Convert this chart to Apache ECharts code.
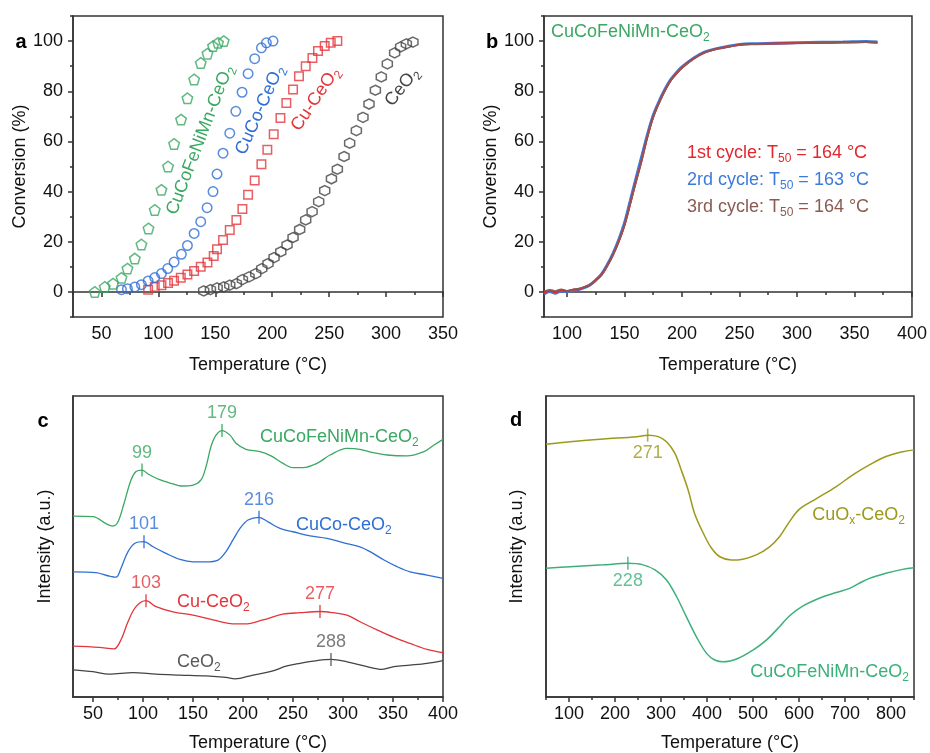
<!DOCTYPE html>
<html>
<head>
<meta charset="utf-8">
<script src="https://cdn.jsdelivr.net/npm/echarts@6/dist/echarts.min.js"></script>
<style>
  html, body { margin: 0; padding: 0; background: #fff; }
  #chart { width: 930px; height: 753px; }
</style>
</head>
<body>
<div id="chart"></div>
<script>
// ---- panel a: light-off curves (temperature °C, conversion %) ----
const aHeaT = [44.1, 52.9, 60.2, 67.6, 72.8, 79.3, 85.1, 91.3, 96.8, 102.7, 108.5, 113.8, 119.9, 125.5, 131.4, 137.2, 143.1, 148, 152.4, 157.4];
const aHeaC = [0, 2, 3.3, 5.6, 9.3, 13.3, 18.9, 25.3, 32.7, 40.7, 50, 59, 68.7, 77.2, 84.7, 91.3, 95, 98, 99.3, 100];
const aCuCoT = [67.6, 72.8, 79.3, 85.1, 91, 96.8, 102.7, 108.2, 113.8, 120.2, 125.5, 131.4, 137.2, 142.8, 148, 151.5, 156.8, 162.7, 168, 173.5, 178.8, 184.6, 190.5, 194.9, 200.7];
const aCuCoC = [0.9, 1.3, 2, 2.9, 4.4, 5.7, 7.3, 9.3, 11.9, 15, 18.5, 23.3, 28, 33.6, 40, 47, 55.3, 63.3, 72, 79.6, 87, 93, 97.3, 99.3, 100];
const aCuT = [91, 96.8, 102.7, 108.5, 113.8, 119.7, 125.5, 131.4, 137.2, 143.1, 148.6, 151.5, 156.8, 162.7, 168.5, 173.8, 178.8, 184.6, 190.5, 195.7, 201.3, 207.2, 212.4, 218.3, 223.5, 229.4, 235.3, 240.2, 246.1, 251.4, 257.2];
const aCuC = [0.9, 2, 2.7, 3.6, 4.5, 5.6, 6.9, 8.3, 10, 11.7, 14.3, 17, 20.7, 24.7, 28.7, 33.1, 38.7, 44.4, 50.9, 56.7, 62.9, 69.3, 75.3, 80.7, 86, 90, 93.3, 96, 98, 99.3, 100];
const aCeT = [139.8, 145.7, 151.6, 157.4, 162.7, 168.5, 173.8, 179.6, 185.5, 190.8, 196.3, 201.6, 207.5, 213, 218.3, 224.1, 229.4, 235, 240.8, 246.1, 252, 257.2, 263.1, 268, 273.9, 279.7, 285, 290.6, 295.8, 301.1, 307.5, 312.8, 317.8, 323.6];
const aCeC = [0.4, 0.9, 1.6, 2, 2.7, 3.3, 4.9, 6, 7.3, 9.3, 11.3, 13.7, 16, 18.7, 21.7, 24.9, 28.7, 32, 36, 40.4, 45.1, 48.9, 54, 59.3, 64.3, 69.6, 74.9, 80.4, 85.7, 90.9, 95.3, 97.7, 98.9, 99.6];

// ---- panel b: three cycles ----
const bT = [80, 85, 90, 95, 100, 105, 110, 115, 120, 125, 130, 135, 140, 145, 150, 155, 160, 165, 170, 175, 180, 185, 190, 195, 200, 210, 220, 230, 240, 250, 260, 280, 300, 320, 340, 360, 370];
const bCycle1 = [-0.5, 0.6, -0.2, 0.8, 0.3, 0.9, 1.1, 1.9, 2.9, 4.6, 6.8, 10.4, 14.8, 20.1, 26.6, 35.2, 44, 52.5, 62, 69.8, 75.4, 80.2, 84.2, 87, 89.4, 93, 95.5, 96.9, 97.7, 98.5, 98.8, 99, 99.2, 99.3, 99.5, 99.6, 99.4];
const bCycle2 = [-0.8, 0.2, -0.5, 0.4, 0.1, 0.6, 0.9, 1.7, 2.8, 4.7, 7.1, 10.8, 15.3, 20.8, 27.5, 36.3, 45.3, 54, 62.8, 70.4, 75.9, 80.6, 84.5, 87.3, 89.7, 93.2, 95.7, 97, 97.9, 98.6, 98.9, 99.1, 99.3, 99.5, 99.6, 99.8, 99.6];
const bCycle3 = [0.2, 0.9, 0.4, 1.1, 0.5, 1, 1.4, 2, 3, 4.6, 6.7, 10.3, 14.6, 19.9, 26.4, 35, 43.8, 52.3, 61.8, 69.6, 75.3, 80.1, 84.1, 86.9, 89.3, 92.9, 95.4, 96.8, 97.7, 98.4, 98.7, 98.9, 99.1, 99.3, 99.4, 99.5, 99.3];
const bT50 = [164, 163, 164];

// ---- panel c: H2-TPR profiles (temperature °C, intensity a.u.) ----
const cHeaT = [30, 50, 63, 70, 75, 81, 88, 93, 99, 105, 116, 130, 138, 150, 158, 163, 168, 173, 179, 187, 193, 203, 217, 228, 240, 250, 260, 274, 287, 304, 317, 330, 344, 364, 381, 391, 400];
const cHeaI = [60.1, 59.9, 57.6, 56.8, 58.2, 64.3, 72.1, 74.9, 75.4, 74.1, 72.3, 70.8, 70.1, 70.4, 72.1, 76.5, 83.2, 87, 88.5, 87, 84.3, 82.3, 81.5, 80.1, 77.6, 76.2, 76.2, 77.6, 80.4, 82.6, 82.3, 81.2, 80.4, 80.1, 81.5, 83.7, 85.6];
const cCuCoT = [30, 53, 66, 73, 78, 85, 92, 101, 110, 123, 137, 150, 163, 175, 183, 190, 197, 205, 216, 225, 237, 250, 267, 284, 300, 317, 327, 341, 354, 367, 384, 400];
const cCuCoI = [41.6, 41.3, 40.2, 39.8, 42.8, 48.3, 51.1, 51.6, 49.9, 47.7, 45.7, 44.9, 44.9, 45.5, 48.3, 52.2, 56, 58.8, 59.7, 58.2, 56, 54.9, 53.5, 52.7, 51.3, 49.9, 48.3, 45.5, 43.3, 41.6, 40.5, 39.4];
const cCuT = [30, 56, 71, 78, 85, 93, 103, 113, 130, 150, 170, 190, 204, 220, 240, 257, 277, 290, 304, 317, 334, 351, 367, 384, 400];
const cCuI = [16.9, 16.5, 16, 19, 25, 30, 32, 30, 28.3, 27.2, 25.6, 24.3, 24.3, 25.6, 27.5, 28, 28.4, 28, 27.2, 25, 22.3, 19.8, 17.8, 15.8, 14.7];
const cCeT = [30, 50, 66, 90, 113, 137, 163, 183, 192, 210, 227, 244, 257, 274, 288, 304, 324, 339, 351, 367, 384, 400];
const cCeI = [9, 8.4, 7.6, 8.1, 7.6, 7.3, 7, 6.5, 6, 7.3, 8.4, 10.3, 11.2, 12.1, 12.5, 11.7, 10.1, 9.2, 10.1, 10.6, 11.2, 12.1];
const cPeakT = [99, 179, 101, 216, 103, 277, 288];
const cPeakI = [75.4, 88.5, 51.6, 59.7, 32, 28.4, 12.5];
const cPeakColor = ['hea', 'hea', 'cuco', 'cuco', 'cu', 'cu', 'ce'];

// ---- panel d ----
const dCuOxT = [50, 102, 175, 247, 272, 294, 312, 330, 344, 359, 373, 392, 410, 428, 453, 478, 507, 536, 558, 579, 601, 637, 681, 717, 753, 789, 825, 850];
const dCuOxI = [84, 84.8, 85.7, 86.5, 87, 86.5, 84.8, 81, 75.4, 68.8, 61, 54.4, 49.4, 46.6, 45.5, 45.8, 47.2, 49.9, 53.3, 58.2, 62.4, 65.8, 69.9, 73.8, 77.1, 79.9, 81.5, 82.1];
const dHeaT = [50, 102, 175, 227, 261, 287, 312, 334, 355, 377, 399, 417, 435, 467, 500, 529, 558, 579, 608, 652, 681, 710, 731, 753, 789, 825, 850];
const dHeaI = [42.8, 43.3, 43.9, 44.4, 43.9, 42.2, 38.9, 33.3, 26.7, 20, 14.5, 12.3, 11.7, 12.8, 15.6, 18.9, 23.4, 26.9, 30.2, 33.3, 34.7, 36.1, 37.8, 39.4, 41.1, 42.4, 42.9];
const dPeakT = [271, 228];
const dPeakI = [87, 44.4];

// tick labels
const ticksA = [50, 100, 150, 200, 250, 300, 350];
const ticksB = [100, 150, 200, 250, 300, 350, 400];
const ticksC = [50, 100, 150, 200, 250, 300, 350, 400];
const ticksD = [100, 200, 300, 400, 500, 600, 700, 800];
const ticksConv = [0, 20, 40, 60, 80, 100];

const FONT = '"Liberation Sans", Arial, sans-serif';
const INK = '#333';
const col = {
    hea: '#3aa862', cuco: '#2f6fd3', cu: '#e2363b', ce: '#444444',
    ceText: '#5a5a5a', olive: '#9c9a1b', heaD: '#3cb079',
    r: '#e0282e', b: '#3d7bd9', br: '#8c5a52'
};

const zip = (a, b) => a.map((v, i) => [v, b[i]]);
const minorsBetween = (ticks, step, lo, hi) => {
    let out = [];
    for (let v = ticks[0] - step; v >= lo; v -= step * 2) out.push(v);
    ticks.forEach(t => { if (t + step <= hi) out.push(t + step); });
    return out;
};

let xAxis = [], yAxis = [];
function addAxis(list, g, min, max, majors, minors, name, nameGap, showLabels) {
    const isX = list === xAxis;
    const pos = isX ? 'bottom' : 'left';
    list.push({
        gridIndex: g, type: 'value', min: min, max: max, position: pos,
        axisLine: { show: true, lineStyle: { color: INK, width: 1.5 } },
        axisTick: { show: majors.length > 0, customValues: majors, length: 5, lineStyle: { color: INK, width: 1.5 } },
        axisLabel: { show: showLabels, customValues: majors, margin: isX ? 8 : 10, fontSize: 18, color: '#111', fontFamily: FONT },
        splitLine: { show: false },
        name: name, nameLocation: 'middle', nameGap: nameGap,
        nameTextStyle: { fontSize: 18, color: '#111', fontFamily: FONT }
    });
    const idx = list.length - 1;
    if (minors.length) {
        list.push({
            gridIndex: g, type: 'value', min: min, max: max, position: pos,
            axisLine: { show: false },
            axisTick: { show: true, customValues: minors, length: 3, lineStyle: { color: INK, width: 1.5 } },
            axisLabel: { show: false },
            splitLine: { show: false }
        });
    }
    return idx;
}

const xa = addAxis(xAxis, 0, 25, 350, ticksA, minorsBetween(ticksA, 25, 25, 350), 'Temperature (°C)', 39, true);
const ya = addAxis(yAxis, 0, -10, 110, ticksConv, minorsBetween(ticksConv, 10, -10, 110), 'Conversion (%)', 44, true);
const xb = addAxis(xAxis, 1, 80, 400, ticksB, minorsBetween(ticksB, 25, 80, 400), 'Temperature (°C)', 39, true);
const yb = addAxis(yAxis, 1, -10, 110, ticksConv, minorsBetween(ticksConv, 10, -10, 110), 'Conversion (%)', 43, true);
const xc = addAxis(xAxis, 2, 30, 400, ticksC, minorsBetween(ticksC, 25, 30, 400), 'Temperature (°C)', 37, true);
const yc = addAxis(yAxis, 2, 0, 100, [], [], 'Intensity (a.u.)', 19, false);
const xd = addAxis(xAxis, 3, 50, 850, ticksD, minorsBetween(ticksD, 50, 50, 850), 'Temperature (°C)', 37, true);
const yd = addAxis(yAxis, 3, 0, 100, [], [], 'Intensity (a.u.)', 20, false);

const gridBox = { show: true, borderColor: INK, borderWidth: 1.5, backgroundColor: 'transparent' };

function hollow(t, c, color, symbol, size) {
    return {
        type: 'scatter', xAxisIndex: xa, yAxisIndex: ya, data: zip(t, c),
        symbol: symbol, symbolSize: size,
        itemStyle: { color: 'rgba(0,0,0,0)', borderColor: color, borderWidth: 1.5 }
    };
}
function curve(xi, yi, t, v, color, w) {
    return {
        type: 'line', xAxisIndex: xi, yAxisIndex: yi, data: zip(t, v),
        symbol: 'none', smooth: 0.35, lineStyle: { color: color, width: w }
    };
}
function peaks(xi, yi, t, v, colors, above) {
    return {
        type: 'scatter', xAxisIndex: xi, yAxisIndex: yi, z: 5,
        data: t.map((x, i) => ({
            value: [x, v[i]],
            itemStyle: { color: colors[i] },
            label: { color: colors[i] }
        })),
        symbol: 'rect', symbolSize: [1.6, 13],
        label: {
            show: true, position: above ? 'top' : 'bottom', distance: 2,
            fontSize: 18, fontFamily: FONT,
            formatter: p => String(p.value[0])
        }
    };
}

const PENTAGON = 'path://M0,-1 L0.951,-0.309 L0.588,0.809 L-0.588,0.809 L-0.951,-0.309 Z';
const HEXAGON = 'path://M0,-1 L0.866,-0.5 L0.866,0.5 L0,1 L-0.866,0.5 L-0.866,-0.5 Z';

const rich = {
    m: { fontSize: 18, lineHeight: 24, fontFamily: FONT },
    s: { fontSize: 12, verticalAlign: 'bottom', fontFamily: FONT }
};
function label(text, x, y, color, align, deg) {
    return {
        type: 'text', x: x, y: y, rotation: (deg || 0) * Math.PI / 180, z: 10,
        style: {
            text: text, rich: rich, fill: color, fontSize: 18, fontFamily: FONT,
            align: align || 'left', verticalAlign: 'middle'
        }
    };
}
function letter(t, x, y) {
    return {
        type: 'text', x: x, y: y, z: 10,
        style: { text: t, fill: '#000', fontSize: 20, fontWeight: 'bold', fontFamily: FONT, align: 'center', verticalAlign: 'middle' }
    };
}
const ceo2 = '{m|-CeO}{s|2}';
const cycleText = (n, t50) => '{m|' + n + ' cycle: T}{s|50}{m| = ' + t50 + ' °C}';

const chart = echarts.init(document.getElementById('chart'));
chart.setOption({
    animation: false,
    backgroundColor: '#fff',
    textStyle: { fontFamily: FONT },
    grid: [
        Object.assign({ left: 73, top: 16, width: 370, height: 301 }, gridBox),
        Object.assign({ left: 544, top: 16, width: 370, height: 301 }, gridBox),
        Object.assign({ left: 73, top: 396, width: 370, height: 301 }, gridBox),
        Object.assign({ left: 546, top: 396, width: 368, height: 301 }, gridBox)
    ],
    xAxis: xAxis,
    yAxis: yAxis,
    series: [
        hollow(aCeT, aCeC, col.ce, HEXAGON, 10),
        hollow(aCuT, aCuC, col.cu, 'rect', 8.5),
        hollow(aCuCoT, aCuCoC, col.cuco, 'circle', 9.5),
        hollow(aHeaT, aHeaC, col.hea, PENTAGON, 10.5),

        curve(xb, yb, bT, bCycle2, col.b, 3),
        curve(xb, yb, bT, bCycle1, col.r, 2),
        curve(xb, yb, bT, bCycle3, col.br, 1.5),

        curve(xc, yc, cHeaT, cHeaI, col.hea, 1.3),
        curve(xc, yc, cCuCoT, cCuCoI, col.cuco, 1.3),
        curve(xc, yc, cCuT, cCuI, col.cu, 1.3),
        curve(xc, yc, cCeT, cCeI, col.ce, 1.3),
        peaks(xc, yc, cPeakT, cPeakI, cPeakColor.map(k => k === 'ce' ? col.ceText : col[k]), true),

        curve(xd, yd, dCuOxT, dCuOxI, col.olive, 1.5),
        curve(xd, yd, dHeaT, dHeaI, col.heaD, 1.5),
        peaks(xd, yd, dPeakT, dPeakI, [col.olive, col.heaD], false)
    ],
    graphic: [
        letter('a', 21, 42), letter('b', 492, 42), letter('c', 43, 421), letter('d', 516, 420),

        label('{m|CuCoFeNiMn}' + ceo2, 200, 140, col.hea, 'center', 69),
        label('{m|CuCo}' + ceo2, 260, 110, col.cuco, 'center', 66),
        label('{m|Cu}' + ceo2, 315.5, 99, col.cu, 'center', 56),
        label('{m|CeO}{s|2}', 402, 87, col.ce, 'center', 52),

        label('{m|CuCoFeNiMn}' + ceo2, 551, 32, col.hea),
        label(cycleText('1st', bT50[0]), 687, 153, col.r),
        label(cycleText('2rd', bT50[1]), 687, 180, col.b),
        label(cycleText('3rd', bT50[2]), 687, 207, col.br),

        label('{m|CuCoFeNiMn}' + ceo2, 260, 437, col.hea),
        label('{m|CuCo}' + ceo2, 296, 525, col.cuco),
        label('{m|Cu}' + ceo2, 177, 602, col.cu),
        label('{m|CeO}{s|2}', 177, 662, col.ceText),

        label('{m|CuO}{s|x}' + ceo2, 905, 515, col.olive, 'right'),
        label('{m|CuCoFeNiMn}' + ceo2, 909, 672, col.heaD, 'right')
    ]
});
</script>
</body>
</html>
